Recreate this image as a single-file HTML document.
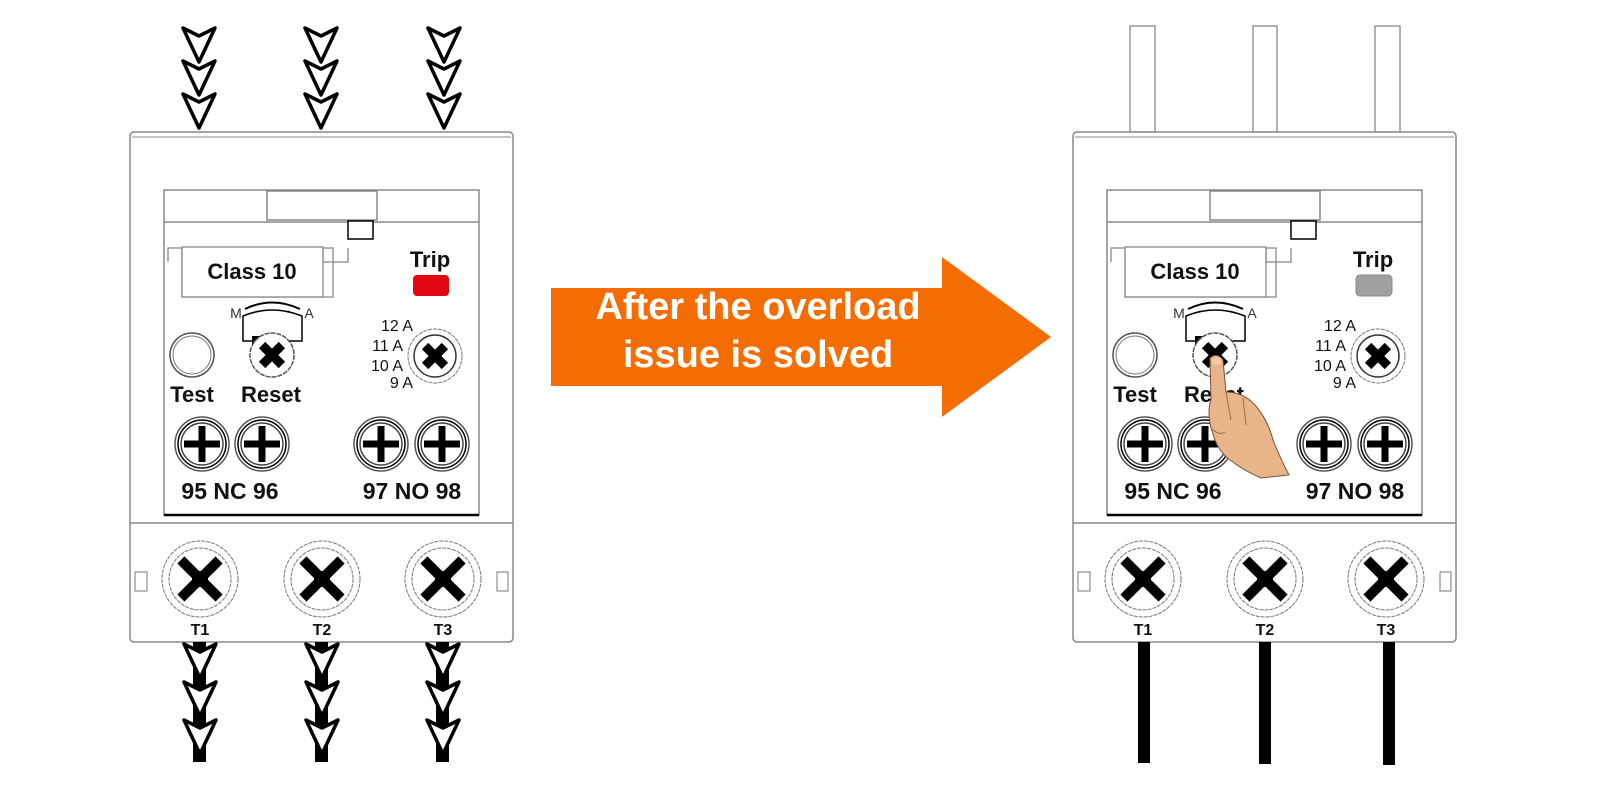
<!DOCTYPE html>
<html><head><meta charset="utf-8"><style>
html,body{margin:0;padding:0;background:#fff;}
svg{display:block;font-family:"Liberation Sans",sans-serif;}
.b{font-weight:bold;}
</style></head><body>
<svg width="1600" height="788" viewBox="0 0 1600 788" xmlns="http://www.w3.org/2000/svg">
<defs>
<g id="chev"><path d="M-16,0 L0,8 L16,0 L0,34 Z" fill="#fff" stroke="#000" stroke-width="3.5" stroke-linejoin="round"/></g>
<g id="plus"><circle r="27" fill="#fff" stroke="#555" stroke-width="1.5"/><circle r="24" fill="none" stroke="#000" stroke-width="1.5"/><circle r="21" fill="none" stroke="#444" stroke-width="1.5"/><rect x="-18" y="-3.5" width="36" height="7" fill="#000"/><rect x="-3.5" y="-18" width="7" height="36" fill="#000"/></g>
<g id="xs"><circle r="38" fill="#fff" stroke="#777" stroke-width="1" stroke-dasharray="4 1"/><circle r="31" fill="none" stroke="#777" stroke-width="1" stroke-dasharray="4 1"/><g transform="rotate(45)"><rect x="-27" y="-5" width="54" height="10" fill="#000"/><rect x="-5" y="-27" width="10" height="54" fill="#000"/></g><circle r="8" fill="#000"/></g>
<g id="xk"><g transform="rotate(45)"><rect x="-14" y="-4.5" width="28" height="9" fill="#000"/><rect x="-4.5" y="-14" width="9" height="28" fill="#000"/></g></g>
</defs>

<!-- LEFT DEVICE -->
<g>
<use href="#chev" x="199" y="28"/><use href="#chev" x="199" y="61"/><use href="#chev" x="199" y="94"/>
<use href="#chev" x="321" y="28"/><use href="#chev" x="321" y="61"/><use href="#chev" x="321" y="94"/>
<use href="#chev" x="444" y="28"/><use href="#chev" x="444" y="61"/><use href="#chev" x="444" y="94"/>
<rect x="130" y="132" width="383" height="510" rx="4" fill="#fff" stroke="#888" stroke-width="1.5"/>
<line x1="132" y1="137" x2="511" y2="137" stroke="#888" stroke-width="1"/>
<rect x="164" y="190" width="315" height="325" fill="#fff" stroke="#888" stroke-width="1.5"/>
<line x1="164" y1="515" x2="479" y2="515" stroke="#000" stroke-width="2.5"/>
<line x1="164" y1="222" x2="479" y2="222" stroke="#888" stroke-width="1.5"/>
<rect x="267" y="191" width="110" height="29" fill="#fff" stroke="#888" stroke-width="1.5"/>
<rect x="348" y="221" width="25" height="18" fill="#fff" stroke="#000" stroke-width="1.5"/>
<path d="M168,262 V248 H333 V297 H182 V248 M323,248 V262 H348 V248" fill="none" stroke="#888" stroke-width="1.3"/>
<rect x="182" y="247" width="141" height="50" fill="#fff" stroke="#888" stroke-width="1.3"/>
<text x="252" y="279" font-size="22" class="b" text-anchor="middle" fill="#111">Class 10</text>
<text x="430" y="267" font-size="22" class="b" text-anchor="middle" fill="#111">Trip</text>
<rect x="413" y="275" width="36" height="21" rx="4" fill="#e30613"/>
<text x="236" y="318" font-size="14" text-anchor="middle" fill="#333">M</text>
<text x="309" y="318" font-size="14" text-anchor="middle" fill="#333">A</text>
<path d="M245,309 Q272,296 300,309" fill="none" stroke="#000" stroke-width="2"/>
<path d="M243,341 V316 Q272,304 302,316 V341 Z" fill="#fff" stroke="#000" stroke-width="1.5"/>
<circle cx="192" cy="355" r="22" fill="#fff" stroke="#555" stroke-width="1.5"/><circle cx="192" cy="355" r="19" fill="none" stroke="#777" stroke-width="1"/>
<rect x="252" y="336" width="10" height="9" fill="#000"/>
<circle cx="272" cy="355" r="22" fill="#fff" stroke="#555" stroke-width="1.5" stroke-dasharray="5 1"/><use href="#xk" x="272" y="355"/>
<circle cx="435" cy="356" r="27" fill="#fff" stroke="#777" stroke-width="1" stroke-dasharray="4 1"/><circle cx="435" cy="356" r="21" fill="none" stroke="#333" stroke-width="1.5"/><use href="#xk" x="435" y="356"/>
<text x="413" y="331" font-size="16" text-anchor="end" fill="#111">12 A</text>
<text x="403" y="351" font-size="16" text-anchor="end" fill="#111">11 A</text>
<text x="403" y="371" font-size="16" text-anchor="end" fill="#111">10 A</text>
<text x="413" y="388" font-size="16" text-anchor="end" fill="#111">9 A</text>
<text x="192" y="402" font-size="22" class="b" text-anchor="middle" fill="#111">Test</text>
<text x="271" y="402" font-size="22" class="b" text-anchor="middle" fill="#111">Reset</text>
<use href="#plus" x="202" y="444"/><use href="#plus" x="262" y="444"/><use href="#plus" x="381" y="444"/><use href="#plus" x="442" y="444"/>
<text x="230" y="499" font-size="23" class="b" text-anchor="middle" fill="#111">95 NC 96</text>
<text x="412" y="499" font-size="23" class="b" text-anchor="middle" fill="#111">97 NO 98</text>
<line x1="130" y1="523" x2="513" y2="523" stroke="#888" stroke-width="1.5"/>
<rect x="135" y="572" width="12" height="19" fill="#fff" stroke="#777"/><rect x="497" y="572" width="11" height="19" fill="#fff" stroke="#777"/>
<use href="#xs" x="200" y="579"/><use href="#xs" x="322" y="579"/><use href="#xs" x="443" y="579"/>
<text x="200" y="635" font-size="16" class="b" text-anchor="middle" fill="#111">T1</text>
<text x="322" y="635" font-size="16" class="b" text-anchor="middle" fill="#111">T2</text>
<text x="443" y="635" font-size="16" class="b" text-anchor="middle" fill="#111">T3</text>
<rect x="193" y="642" width="13" height="120" fill="#000"/><rect x="315" y="642" width="13" height="120" fill="#000"/><rect x="436" y="642" width="13" height="120" fill="#000"/>
<use href="#chev" x="200" y="644"/><use href="#chev" x="200" y="682"/><use href="#chev" x="200" y="720"/>
<use href="#chev" x="322" y="644"/><use href="#chev" x="322" y="682"/><use href="#chev" x="322" y="720"/>
<use href="#chev" x="443" y="644"/><use href="#chev" x="443" y="682"/><use href="#chev" x="443" y="720"/>
</g>

<!-- ARROW -->
<path d="M551,288 H942 V257 L1051,337 L942,417 V386 H551 Z" fill="#f56c00"/>
<text x="758" y="319" font-size="38" class="b" text-anchor="middle" fill="#fff">After the overload</text>
<text x="758" y="367" font-size="38" class="b" text-anchor="middle" fill="#fff">issue is solved</text>

<!-- RIGHT DEVICE -->
<g transform="translate(943,0)">
<rect x="187" y="26" width="25" height="106" fill="#fff" stroke="#888" stroke-width="1.3"/>
<rect x="310" y="26" width="24" height="106" fill="#fff" stroke="#888" stroke-width="1.3"/>
<rect x="432" y="26" width="25" height="106" fill="#fff" stroke="#888" stroke-width="1.3"/>
<rect x="130" y="132" width="383" height="510" rx="4" fill="#fff" stroke="#888" stroke-width="1.5"/>
<line x1="132" y1="137" x2="511" y2="137" stroke="#888" stroke-width="1"/>
<rect x="164" y="190" width="315" height="325" fill="#fff" stroke="#888" stroke-width="1.5"/>
<line x1="164" y1="515" x2="479" y2="515" stroke="#000" stroke-width="2.5"/>
<line x1="164" y1="222" x2="479" y2="222" stroke="#888" stroke-width="1.5"/>
<rect x="267" y="191" width="110" height="29" fill="#fff" stroke="#888" stroke-width="1.5"/>
<rect x="348" y="221" width="25" height="18" fill="#fff" stroke="#000" stroke-width="1.5"/>
<path d="M168,262 V248 H333 V297 H182 V248 M323,248 V262 H348 V248" fill="none" stroke="#888" stroke-width="1.3"/>
<rect x="182" y="247" width="141" height="50" fill="#fff" stroke="#888" stroke-width="1.3"/>
<text x="252" y="279" font-size="22" class="b" text-anchor="middle" fill="#111">Class 10</text>
<text x="430" y="267" font-size="22" class="b" text-anchor="middle" fill="#111">Trip</text>
<rect x="413" y="275" width="36" height="21" rx="4" fill="#a0a0a0" stroke="#888"/>
<text x="236" y="318" font-size="14" text-anchor="middle" fill="#333">M</text>
<text x="309" y="318" font-size="14" text-anchor="middle" fill="#333">A</text>
<path d="M245,309 Q272,296 300,309" fill="none" stroke="#000" stroke-width="2"/>
<path d="M243,341 V316 Q272,304 302,316 V341 Z" fill="#fff" stroke="#000" stroke-width="1.5"/>
<circle cx="192" cy="355" r="22" fill="#fff" stroke="#555" stroke-width="1.5"/><circle cx="192" cy="355" r="19" fill="none" stroke="#777" stroke-width="1"/>
<rect x="252" y="336" width="10" height="9" fill="#000"/>
<circle cx="272" cy="355" r="22" fill="#fff" stroke="#555" stroke-width="1.5" stroke-dasharray="5 1"/><use href="#xk" x="272" y="355"/>
<circle cx="435" cy="356" r="27" fill="#fff" stroke="#777" stroke-width="1" stroke-dasharray="4 1"/><circle cx="435" cy="356" r="21" fill="none" stroke="#333" stroke-width="1.5"/><use href="#xk" x="435" y="356"/>
<text x="413" y="331" font-size="16" text-anchor="end" fill="#111">12 A</text>
<text x="403" y="351" font-size="16" text-anchor="end" fill="#111">11 A</text>
<text x="403" y="371" font-size="16" text-anchor="end" fill="#111">10 A</text>
<text x="413" y="388" font-size="16" text-anchor="end" fill="#111">9 A</text>
<text x="192" y="402" font-size="22" class="b" text-anchor="middle" fill="#111">Test</text>
<text x="271" y="402" font-size="22" class="b" text-anchor="middle" fill="#111">Reset</text>
<use href="#plus" x="202" y="444"/><use href="#plus" x="262" y="444"/><use href="#plus" x="381" y="444"/><use href="#plus" x="442" y="444"/>
<text x="230" y="499" font-size="23" class="b" text-anchor="middle" fill="#111">95 NC 96</text>
<text x="412" y="499" font-size="23" class="b" text-anchor="middle" fill="#111">97 NO 98</text>
<line x1="130" y1="523" x2="513" y2="523" stroke="#888" stroke-width="1.5"/>
<rect x="135" y="572" width="12" height="19" fill="#fff" stroke="#777"/><rect x="497" y="572" width="11" height="19" fill="#fff" stroke="#777"/>
<use href="#xs" x="200" y="579"/><use href="#xs" x="322" y="579"/><use href="#xs" x="443" y="579"/>
<text x="200" y="635" font-size="16" class="b" text-anchor="middle" fill="#111">T1</text>
<text x="322" y="635" font-size="16" class="b" text-anchor="middle" fill="#111">T2</text>
<text x="443" y="635" font-size="16" class="b" text-anchor="middle" fill="#111">T3</text>
<rect x="195" y="642" width="12" height="121" fill="#000"/><rect x="316" y="642" width="12" height="122" fill="#000"/><rect x="440" y="642" width="12" height="123" fill="#000"/>
<!-- hand -->
<path d="M267,358 Q274,352 280,360 L283,392 Q300,392 312,405 Q325,420 330,440 Q338,460 346,475 L318,478 Q300,470 290,462 Q278,455 272,440 L268,428 Q264,410 268,400 Z" fill="#e8b58a" stroke="#7a5030" stroke-width="1"/>
<path d="M283,392 L288,420 M300,398 L303,425 M268,428 Q276,436 282,432" fill="none" stroke="#a06a40" stroke-width="1"/>
<ellipse cx="274" cy="361" rx="5" ry="4" fill="#f2c9a6"/>
</g>
</svg>
</body></html>
